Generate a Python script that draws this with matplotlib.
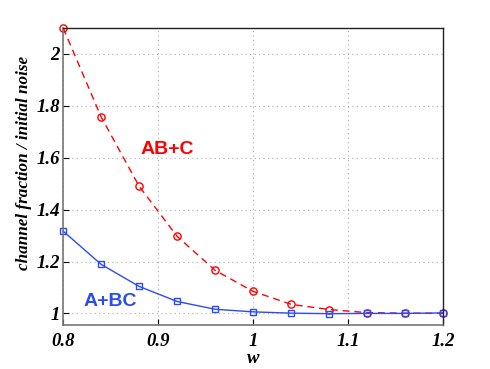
import matplotlib
matplotlib.use("Agg")
import matplotlib.pyplot as plt

# data
w = [0.80, 0.84, 0.88, 0.92, 0.96, 1.00, 1.04, 1.08, 1.12, 1.16, 1.20]
ab_c = [2.10, 1.757, 1.49, 1.297, 1.166, 1.085, 1.035, 1.015, 1.003, 1.001, 1.000]
a_bc = [1.317, 1.189, 1.104, 1.046, 1.016, 1.006, 1.001, 0.999, 1.000, 1.000, 1.002]

xticks = [0.8, 0.9, 1.0, 1.1, 1.2]
xticklabels = ["0.8", "0.9", "1", "1.1", "1.2"]
yticks = [1.0, 1.2, 1.4, 1.6, 1.8, 2.0]
yticklabels = ["1", "1.2", "1.4", "1.6", "1.8", "2"]

red = "#ff0000"
blue = "#2b4cf0"

fig = plt.figure(figsize=(4.9, 3.69), dpi=100)
ax = fig.add_axes([0.129, 0.119, 0.775, 0.805])

ax.plot(w, ab_c, color=red, lw=1.0, dashes=(5, 3.5), marker="o", ms=5.2,
        mfc="none", mec=red, mew=1.0, clip_on=False)
ax.plot(w, a_bc, "-", color=blue, lw=1.0, marker="s", ms=4.5, mfc="none", mec=blue,
        mew=1.0, clip_on=False)

ax.set_xlim(0.8, 1.2)
ax.set_ylim(0.955, 2.1)
ax.set_xticks(xticks)
ax.set_xticklabels(xticklabels)
ax.set_yticks(yticks)
ax.set_yticklabels(yticklabels)

tick_font = dict(family="Liberation Serif", weight="bold", style="italic", size=13.5)
for lab in ax.get_xticklabels() + ax.get_yticklabels():
    lab.set_fontproperties(matplotlib.font_manager.FontProperties(**tick_font))

ax.set_xlabel("w", fontdict=tick_font, labelpad=0)
ax.set_ylabel("channel fraction / initial noise", family="Liberation Serif",
              weight="bold", style="italic", size=12.3)
ax.yaxis.set_label_coords(-0.083, 0.547)

ax.grid(True, linestyle=(0, (1, 3)), color="#aaaaaa", lw=0.8)
ax.tick_params(axis="y", direction="in", length=4, width=0.8, pad=2.5)
ax.tick_params(axis="x", direction="in", length=4, width=0.8, pad=5.5)
for side in ["left", "bottom"]:
    ax.spines[side].set_color("#777777")
    ax.spines[side].set_linewidth(1.2)
for side in ["top", "right"]:
    ax.spines[side].set_color("#222222")
    ax.spines[side].set_linewidth(1.0)

ax.text(0.881, 1.633, "AB+C", color=red, fontsize=14, fontweight="bold",
        family="Liberation Sans", va="center", ha="left")
ax.text(0.821, 1.046, "A+BC", color=blue, fontsize=14, fontweight="bold",
        family="Liberation Sans", va="center", ha="left")

fig.savefig("out.png", dpi=100)
